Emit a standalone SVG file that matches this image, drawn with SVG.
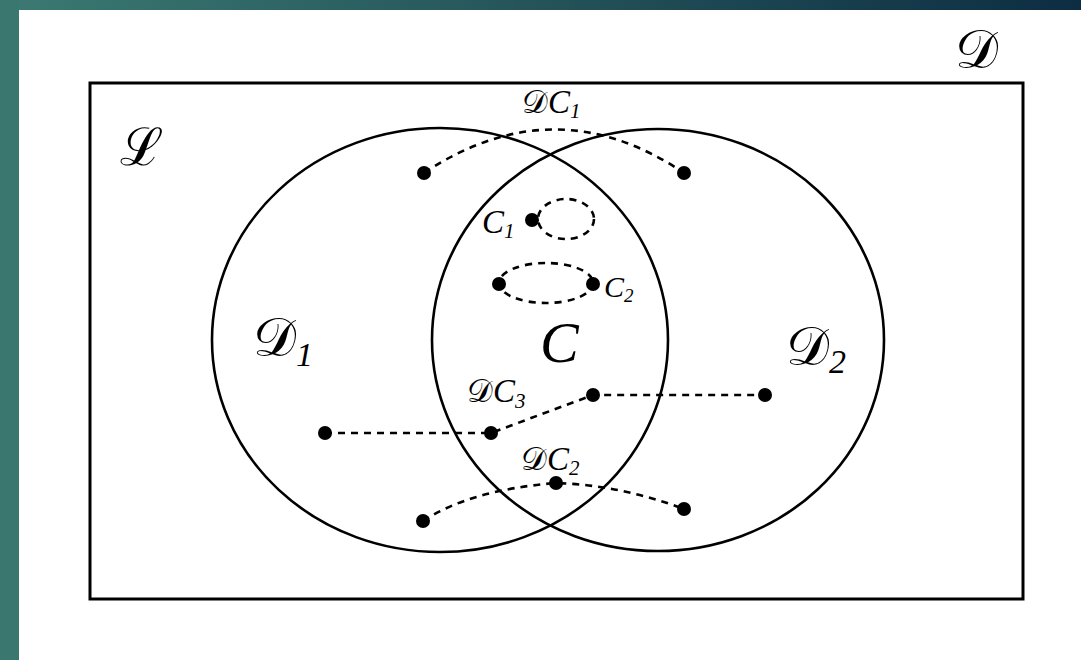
<svg xmlns="http://www.w3.org/2000/svg" width="1081" height="660" viewBox="0 0 1081 660">
<defs>
<linearGradient id="band" x1="0" y1="0" x2="1" y2="0">
<stop offset="0" stop-color="#3b7a72"/>
<stop offset="1" stop-color="#0d2d42"/>
</linearGradient>
</defs>
<style>
.dash{fill:none;stroke:#000;stroke-width:2.6;stroke-dasharray:7 6}
.solid{fill:none;stroke:#000;stroke-width:2.6}
.dot{fill:#000}
text{font-family:"DejaVu Serif","Liberation Serif",serif;fill:#000}
.it{font-family:"Liberation Serif",serif;font-style:italic}
</style>
<rect width="1081" height="660" fill="#fff"/>
<rect x="0" y="0" width="1081" height="10" fill="url(#band)"/>
<rect x="0" y="0" width="19" height="660" fill="#3a776f"/>
<g id="universe">
<rect x="90" y="83" width="933" height="516" fill="none" stroke="#000" stroke-width="3"/>
<text x="955" y="68" font-size="54">𝒟</text>
</g>
<g id="L"><text x="120" y="165" font-size="52">ℒ</text></g>
<g id="D1">
<ellipse cx="440" cy="340" rx="228" ry="212" class="solid"/>
<text x="253" y="356" font-size="54">𝒟<tspan class="it" font-size="34" dy="10">1</tspan></text>
</g>
<g id="D2">
<ellipse cx="658" cy="340" rx="226" ry="211" class="solid"/>
<text x="786" y="365" font-size="54">𝒟<tspan class="it" font-size="34" dy="8">2</tspan></text>
</g>
<g id="C"><text x="540" y="362" font-size="58" class="it">C</text></g>
<g id="connectors">
<path class="dash" d="M424,173 Q555,86 684,173"/>
<ellipse class="dash" cx="566" cy="219" rx="28" ry="20"/>
<ellipse class="dash" cx="546" cy="283" rx="47" ry="20"/>
<path class="dash" d="M325,433 L491,433 L593,395 L765,395"/>
<path class="dash" d="M423,521 Q470,490 556,483 Q620,485 684,509"/>
</g>
<g id="points">
<circle class="dot" cx="424" cy="173" r="7"/>
<circle class="dot" cx="684" cy="173" r="7"/>
<circle class="dot" cx="532" cy="220" r="7"/>
<circle class="dot" cx="499" cy="284" r="7"/>
<circle class="dot" cx="593" cy="284" r="7"/>
<circle class="dot" cx="325" cy="433" r="7"/>
<circle class="dot" cx="491" cy="433" r="7"/>
<circle class="dot" cx="593" cy="395" r="7"/>
<circle class="dot" cx="765" cy="395" r="7"/>
<circle class="dot" cx="556" cy="483" r="7"/>
<circle class="dot" cx="423" cy="521" r="7"/>
<circle class="dot" cx="684" cy="509" r="7"/>
</g>
<g id="labels">
<text x="522" y="113" font-size="32">𝒟<tspan class="it" font-size="33">C</tspan><tspan class="it" font-size="21" dy="5">1</tspan></text>
<text x="482" y="233" font-size="33" class="it">C<tspan font-size="21" dy="5">1</tspan></text>
<text x="604" y="297" font-size="30" class="it">C<tspan font-size="19" dy="5">2</tspan></text>
<text x="467" y="402" font-size="32">𝒟<tspan class="it" font-size="33">C</tspan><tspan class="it" font-size="21" dy="6">3</tspan></text>
<text x="521" y="470" font-size="32">𝒟<tspan class="it" font-size="33">C</tspan><tspan class="it" font-size="21" dy="5">2</tspan></text>
</g>
</svg>
